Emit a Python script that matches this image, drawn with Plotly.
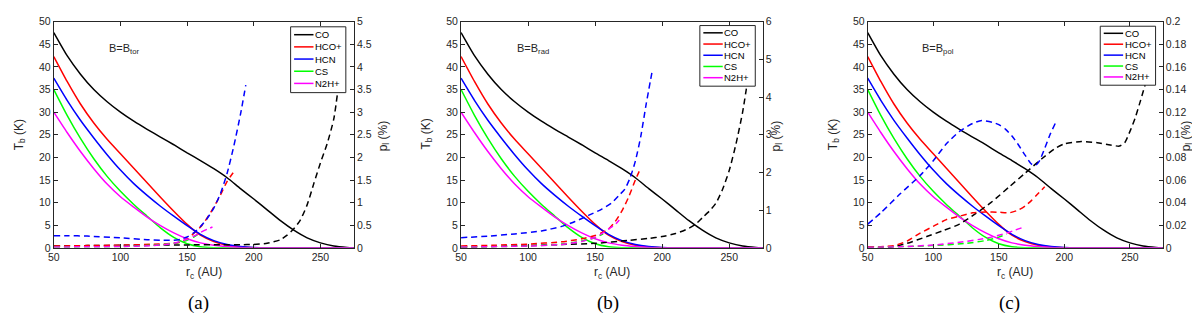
import plotly.graph_objects as go

W, H = 1200, 319

# ---------------- data ----------------
species = ["CO", "HCO+", "HCN", "CS", "N2H+"]
colors = ["#000000", "#ff0000", "#0000ff", "#00ff00", "#ff00ff"]
panel_labels = ["(a)", "(b)", "(c)"]
field_labels = ["B=B<sub>tor</sub>", "B=B<sub>rad</sub>", "B=B<sub>pol</sub>"]

x_ticks = [50, 100, 150, 200, 250]
left_ticks = [0, 5, 10, 15, 20, 25, 30, 35, 40, 45, 50]
a_right_ticks = [0, 0.5, 1, 1.5, 2, 2.5, 3, 3.5, 4, 4.5, 5]
b_right_ticks = [0, 1, 2, 3, 4, 5, 6]
c_right_ticks = [0, 0.02, 0.04, 0.06, 0.08, 0.1, 0.12, 0.14, 0.16, 0.18, 0.2]

# brightness temperature T_b (K), same in all three panels
r_tb = [50, 60, 70, 80, 90, 100, 110, 120, 130, 140, 150, 160, 170, 180, 190, 200,
        210, 220, 230, 240, 250, 260, 270, 275]
tb_CO = [47.6, 42.5, 38.4, 35.0, 32.3, 30.0, 28.0, 26.2, 24.5, 22.8, 21.0, 19.3, 17.5, 15.5,
         13.1, 10.8, 8.4, 6.0, 3.9, 2.2, 1.1, 0.4, 0.08, 0.0]
tb_HCOp = [42.3, 36.8, 31.8, 27.6, 24.0, 20.8, 17.6, 14.4, 11.2, 8.1, 5.2, 2.8, 1.4, 0.6,
           0.2, 0.05, 0, 0, 0, 0, 0, 0, 0, 0]
tb_HCN = [37.5, 32.6, 28.2, 24.3, 20.6, 17.2, 14.2, 11.6, 9.2, 7.0, 4.9, 3.0, 1.6, 0.75,
          0.3, 0.08, 0, 0, 0, 0, 0, 0, 0, 0]
tb_CS = [35.0, 29.3, 24.2, 19.7, 15.8, 12.5, 9.6, 7.0, 4.4, 2.3, 0.9, 0.25, 0.05, 0,
         0, 0, 0, 0, 0, 0, 0, 0, 0, 0]
tb_N2Hp = [30.0, 25.5, 21.3, 17.5, 14.1, 11.3, 9.0, 6.8, 4.9, 3.3, 2.0, 1.1, 0.6, 0.3,
           0.1, 0.03, 0, 0, 0, 0, 0, 0, 0, 0]

# polarization degree p_l (%) -- panel (a) B_tor
a_r_CO = [50, 75, 100, 125, 150, 175, 190, 200, 210, 220, 225, 230, 235, 240, 245, 250, 255, 260, 264]
a_p_CO = [0.04, 0.05, 0.055, 0.06, 0.065, 0.07, 0.07, 0.075, 0.1, 0.18, 0.28, 0.42, 0.62, 0.95,
          1.42, 1.88, 2.3, 2.85, 3.7]
a_r_HCOp = [50, 75, 100, 125, 140, 145, 150, 155, 160, 165, 170, 175, 180, 186]
a_p_HCOp = [0.04, 0.05, 0.06, 0.08, 0.1, 0.13, 0.2, 0.32, 0.46, 0.66, 0.9, 1.17, 1.47, 1.72]
a_r_HCN = [50, 60, 75, 100, 120, 130, 140, 145, 150, 155, 160, 165, 170, 175, 180, 185, 190, 194]
a_p_HCN = [0.27, 0.27, 0.26, 0.22, 0.18, 0.17, 0.17, 0.19, 0.24, 0.33, 0.47, 0.65, 0.88, 1.2,
           1.65, 2.25, 2.95, 3.6]
a_r_CS = [50, 100, 125, 140, 150, 155, 158]
a_p_CS = [0.02, 0.03, 0.06, 0.1, 0.17, 0.24, 0.3]
a_r_N2Hp = [50, 100, 125, 140, 150, 155, 160, 165, 169]
a_p_N2Hp = [0.02, 0.03, 0.05, 0.1, 0.19, 0.26, 0.34, 0.41, 0.46]

# panel (b) B_rad
b_r_CO = [50, 100, 125, 150, 175, 190, 200, 210, 220, 225, 230, 235, 240, 245, 250, 255, 260, 263]
b_p_CO = [0.02, 0.06, 0.09, 0.12, 0.2, 0.25, 0.3, 0.38, 0.52, 0.63, 0.8, 0.97, 1.18, 1.55,
          2.05, 2.75, 3.6, 4.27]
b_r_HCOp = [50, 75, 100, 125, 140, 150, 155, 160, 165, 170, 175, 180, 184]
b_p_HCOp = [0.05, 0.07, 0.1, 0.16, 0.24, 0.33, 0.4, 0.5, 0.7, 0.98, 1.35, 1.8, 2.12]
b_r_HCN = [50, 70, 90, 110, 125, 135, 145, 155, 162, 168, 172, 176, 180, 184, 188, 192.7]
b_p_HCN = [0.27, 0.31, 0.37, 0.45, 0.57, 0.7, 0.86, 1.03, 1.18, 1.4, 1.55, 1.85, 2.3, 2.95,
           3.8, 4.72]
b_r_CS = [50, 100, 125, 140, 150, 156]
b_p_CS = [0.02, 0.05, 0.1, 0.18, 0.27, 0.37]
b_r_N2Hp = [50, 100, 125, 140, 150, 155, 160, 165, 168]
b_p_N2Hp = [0.02, 0.05, 0.09, 0.17, 0.28, 0.38, 0.5, 0.62, 0.74]

# panel (c) B_pol
c_r_CO = [50, 60, 67, 80, 95, 107, 120, 132, 145, 158, 170, 183, 193, 200, 213, 225, 235, 242,
          246, 250, 254, 258, 262]
c_p_CO = [0, 0, 0.0005, 0.004, 0.01, 0.015, 0.021, 0.03, 0.041, 0.054, 0.066, 0.079, 0.088,
          0.092, 0.094, 0.093, 0.091, 0.09, 0.093, 0.103, 0.115, 0.13, 0.146]
c_r_HCOp = [50, 60, 70, 80, 90, 100, 110, 120, 130, 140, 150, 158, 165, 170, 175, 180, 185]
c_p_HCOp = [0.001, 0.001, 0.002, 0.006, 0.013, 0.019, 0.025, 0.028, 0.031, 0.0318, 0.0315,
            0.031, 0.0335, 0.037, 0.042, 0.048, 0.054]
c_r_HCN = [50, 60, 75, 90, 100, 110, 120, 130, 137, 145, 150, 155, 160, 165, 170, 175, 178,
           181, 185, 189, 193]
c_p_HCN = [0.021, 0.031, 0.048, 0.064, 0.077, 0.092, 0.103, 0.11, 0.1126, 0.111, 0.109, 0.105,
           0.099, 0.091, 0.082, 0.074, 0.073, 0.077, 0.088, 0.1, 0.11]
c_r_CS = [50, 100, 125, 140, 150, 156]
c_p_CS = [0.0003, 0.002, 0.004, 0.0065, 0.0095, 0.012]
c_r_N2Hp = [50, 75, 100, 120, 135, 145, 155, 162, 168]
c_p_N2Hp = [0.0005, 0.001, 0.0025, 0.005, 0.0075, 0.0097, 0.0128, 0.0155, 0.018]

tb_series = [tb_CO, tb_HCOp, tb_HCN, tb_CS, tb_N2Hp]
pol_r = [
    [a_r_CO, a_r_HCOp, a_r_HCN, a_r_CS, a_r_N2Hp],
    [b_r_CO, b_r_HCOp, b_r_HCN, b_r_CS, b_r_N2Hp],
    [c_r_CO, c_r_HCOp, c_r_HCN, c_r_CS, c_r_N2Hp],
]
pol_p = [
    [a_p_CO, a_p_HCOp, a_p_HCN, a_p_CS, a_p_N2Hp],
    [b_p_CO, b_p_HCOp, b_p_HCN, b_p_CS, b_p_N2Hp],
    [c_p_CO, c_p_HCOp, c_p_HCN, c_p_CS, c_p_N2Hp],
]
right_ticks = [a_right_ticks, b_right_ticks, c_right_ticks]

# ---------------- layout geometry (pixels) ----------------
panels_px = [(40, 341.5), (449.3, 752.5), (858, 1154.5)]
plot_top, plot_bottom = 8, 243
legend_px = [(278, 13.3, 333.5, 81.7), (689.3, 12, 745, 75), (1091.7, 12.7, 1147.3, 74)]
ylabel_right_px = [372, 767, 1179]
panel_label_cx = [185, 597, 1001]


def px(x):
    return x / W


def py(y):
    return 1 - y / H


AX = "#262626"
FONT = "Arial, Liberation Sans, Helvetica, sans-serif"
TICK = 10.5

fig = go.Figure()
layout = dict(
    width=W, height=H,
    margin=dict(l=0, r=0, t=0, b=0),
    paper_bgcolor="white", plot_bgcolor="white",
    showlegend=False,
    font=dict(family=FONT, size=11, color=AX),
)
shapes, annotations = [], []

for k in range(3):
    xname = "x" if k == 0 else f"x{k+1}"
    yl_idx, yr_idx = 2 * k + 1, 2 * k + 2
    ylname = "y" if yl_idx == 1 else f"y{yl_idx}"
    yrname = f"y{yr_idx}"
    x0, x1 = panels_px[k]

    layout["xaxis" if k == 0 else f"xaxis{k+1}"] = dict(
        domain=[px(x0), px(x1)], anchor=ylname, range=[50, 275],
        tickvals=x_ticks, ticktext=[str(v) for v in x_ticks],
        ticks="inside", ticklen=4, tickcolor=AX, showline=True, linecolor=AX, linewidth=1,
        mirror="ticks", showgrid=False, zeroline=False,
        tickfont=dict(size=TICK, color=AX, family=FONT),
    )
    layout["yaxis" if yl_idx == 1 else f"yaxis{yl_idx}"] = dict(
        domain=[py(plot_bottom), py(plot_top)], anchor=xname, range=[0, 50],
        tickvals=left_ticks, ticktext=[str(v) for v in left_ticks],
        ticks="inside", ticklen=4, tickcolor=AX, showline=True, linecolor=AX, linewidth=1,
        showgrid=False, zeroline=False, tickfont=dict(size=TICK, color=AX, family=FONT),
    )
    rt = right_ticks[k]
    layout[f"yaxis{yr_idx}"] = dict(
        overlaying=ylname, anchor=xname, side="right", range=[0, rt[-1]],
        tickvals=rt, ticktext=[f"{v:g}" for v in rt],
        ticks="inside", ticklen=4, tickcolor=AX, showline=True, linecolor=AX, linewidth=1,
        showgrid=False, zeroline=False, tickfont=dict(size=TICK, color=AX, family=FONT),
    )

    # solid T_b curves
    for s in range(5):
        fig.add_trace(go.Scatter(
            x=r_tb, y=tb_series[s], mode="lines", name=species[s],
            line=dict(color=colors[s], width=1.5, shape="spline", smoothing=0.6),
            xaxis=xname, yaxis=ylname, hoverinfo="skip",
        ))
    # dashed polarization curves
    for s in range(5):
        fig.add_trace(go.Scatter(
            x=pol_r[k][s], y=pol_p[k][s], mode="lines", name=species[s] + " p",
            line=dict(color=colors[s], width=1.5, dash="6px,4px", shape="spline", smoothing=0.6),
            xaxis=xname, yaxis=yrname, hoverinfo="skip",
        ))

    # axis titles
    annotations.append(dict(
        text="T<sub>b</sub> (K)",
        x=px(x0 - 34), y=py(125), xref="paper", yref="paper", textangle=-90,
        showarrow=False, xanchor="center", yanchor="middle",
        font=dict(size=12, color=AX, family=FONT),
    ))
    annotations.append(dict(
        text="p<sub>l</sub> (%)", x=px(ylabel_right_px[k]), y=py(127), xref="paper", yref="paper",
        textangle=-90, showarrow=False, xanchor="center", yanchor="middle",
        font=dict(size=12, color=AX, family=FONT),
    ))
    annotations.append(dict(
        text="r<sub>c</sub> (AU)", x=px((x0 + x1) / 2), y=py(269), xref="paper", yref="paper",
        showarrow=False, xanchor="center", yanchor="middle",
        font=dict(size=12, color=AX, family=FONT),
    ))
    annotations.append(dict(
        text=panel_labels[k], x=px(panel_label_cx[k]), y=py(300), xref="paper", yref="paper",
        showarrow=False, xanchor="center", yanchor="middle",
        font=dict(size=19, color="black", family="Liberation Serif, Times New Roman, serif"),
    ))
    annotations.append(dict(
        text=field_labels[k], x=90, y=44, xref=xname, yref=ylname,
        showarrow=False, xanchor="left", yanchor="middle",
        font=dict(size=11, color=AX, family=FONT),
    ))

    # legend box
    lx0, ly0, lx1, ly1 = legend_px[k]
    lh = ly1 - ly0
    shapes.append(dict(type="rect", xref="paper", yref="paper",
                       x0=px(lx0), x1=px(lx1), y0=py(ly1), y1=py(ly0),
                       line=dict(color=AX, width=1), fillcolor="white", layer="above"))
    for s in range(5):
        yy = ly0 + lh * (0.12 + s * 0.185)
        shapes.append(dict(type="line", xref="paper", yref="paper",
                           x0=px(lx0 + 3.5), x1=px(lx0 + 23), y0=py(yy), y1=py(yy),
                           line=dict(color=colors[s], width=1.5), layer="above"))
        annotations.append(dict(
            text=species[s], x=px(lx0 + 23.5), y=py(yy), xref="paper", yref="paper",
            showarrow=False, xanchor="left", yanchor="middle", borderpad=0,
            font=dict(size=9.5, color="black", family=FONT),
        ))

layout["shapes"] = shapes
layout["annotations"] = annotations
fig.update_layout(**layout)
fig.write_html("out.html")
